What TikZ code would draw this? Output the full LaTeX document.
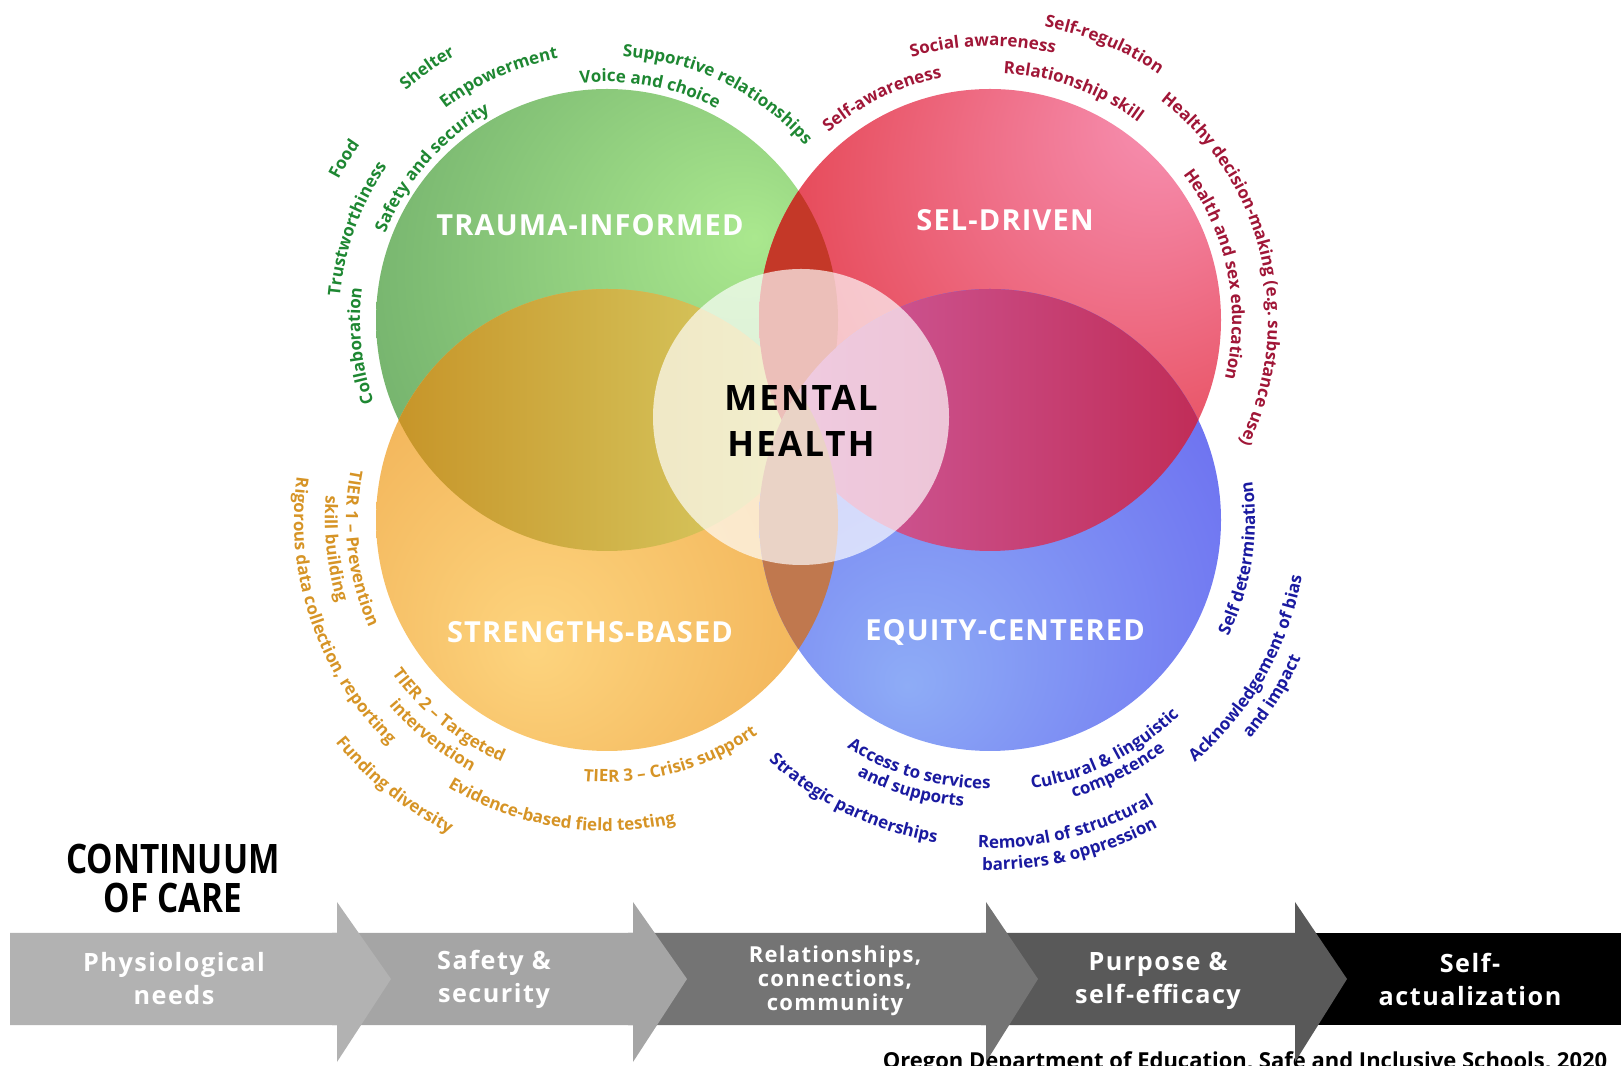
\documentclass[tikz,border=0pt]{standalone}
\usepackage{fontspec}
\setmainfont{Open Sans}
\newfontfamily\condfont{Open Sans}[FakeStretch=0.82]
\usetikzlibrary{decorations.text}

% circle colours
\definecolor{grnlo}{RGB}{98,160,98}
\definecolor{grnhi}{RGB}{170,232,142}
\definecolor{redlo}{RGB}{226,56,66}
\definecolor{redhi}{RGB}{247,146,180}
\definecolor{orglo}{RGB}{236,162,68}
\definecolor{orghi}{RGB}{253,212,126}
\definecolor{blulo}{RGB}{104,104,240}
\definecolor{bluhi}{RGB}{142,172,246}
% overlaps
\definecolor{golo}{RGB}{198,146,38}
\definecolor{gohi}{RGB}{218,212,108}
\definecolor{grlens}{RGB}{196,56,40}
\definecolor{rblo}{RGB}{208,98,165}
\definecolor{rbhi}{RGB}{192,42,84}
\definecolor{oblens}{RGB}{192,120,78}
% label colours
\definecolor{grntxt}{RGB}{30,135,50}
\definecolor{redtxt}{RGB}{160,22,55}
\definecolor{orgtxt}{RGB}{214,148,38}
\definecolor{blutxt}{RGB}{26,26,160}

\pgfdeclareradialshading{grnball}{\pgfpoint{16bp}{9bp}}{color(0bp)=(grnhi); color(50bp)=(grnlo); color(80bp)=(grnlo)}
\pgfdeclareradialshading{redball}{\pgfpoint{20bp}{23bp}}{color(0bp)=(redhi); color(42bp)=(redlo); color(80bp)=(redlo)}
\pgfdeclareradialshading{orgball}{\pgfpoint{-8bp}{-14bp}}{color(0bp)=(orghi); color(46bp)=(orglo); color(80bp)=(orglo)}
\pgfdeclareradialshading{bluball}{\pgfpoint{-9bp}{-18bp}}{color(0bp)=(bluhi); color(42bp)=(blulo); color(80bp)=(blulo)}

\newcommand\ringfont{\bfseries\fontsize{8.5}{10}\selectfont}
% text round a circle, read clockwise (top) or anticlockwise (bottom)
\newcommand\cwlabel[5]{%
  \path[decorate, decoration={text along path, text align=center,
    text={|\ringfont\color{#4}|#5}}]
    (#1) ++(#3+80:#2-5) arc[start angle=#3+80, end angle=#3-80, radius=#2-5];}
\newcommand\ccwlabel[5]{%
  \path[decorate, decoration={text along path, text align=center,
    text={|\ringfont\color{#4}|#5}}]
    (#1) ++(#3-80:#2+5) arc[start angle=#3-80, end angle=#3+80, radius=#2+5];}

\begin{document}
\begin{tikzpicture}[x=0.5pt, y=0.5pt,
  title/.style={text=white, font=\bfseries\fontsize{14.5}{17}\selectfont\addfontfeatures{LetterSpace=4}},
  stage/.style={text=white, align=center, font=\bfseries\fontsize{12.6}{16.5}\selectfont\addfontfeatures{LetterSpace=6}},
  arr1/.style={fill={rgb,255:red,178;green,178;blue,178}},
  arr2/.style={fill={rgb,255:red,165;green,165;blue,165}},
  arr3/.style={fill={rgb,255:red,116;green,116;blue,116}},
  arr4/.style={fill={rgb,255:red,89;green,89;blue,89}},
  arr5/.style={fill=black}]
	\useasboundingbox (0,0) rectangle (1621,1065);
	\clip (0,0) rectangle (1621,1065);
	\coordinate (gc) at (607,745);
	\coordinate (rc) at (990,745);
	\coordinate (oc) at (607,545);
	\coordinate (bc) at (990,545);
	\coordinate (wc) at (801,648);

	% four circles
	\shade[shading=grnball] (gc) circle[radius=231];
	\shade[shading=redball] (rc) circle[radius=231];
	\shade[shading=orgball] (oc) circle[radius=231];
	\shade[shading=bluball] (bc) circle[radius=231];
	% overlaps
	\begin{scope}
		\clip (gc) circle[radius=231];
		\shade[left color=golo, right color=gohi] (oc) circle[radius=231];
		\fill[grlens] (rc) circle[radius=231];
	\end{scope}
	\begin{scope}
		\clip (bc) circle[radius=231];
		\shade[left color=rblo, right color=rbhi] (rc) circle[radius=231];
		\fill[oblens] (oc) circle[radius=231];
	\end{scope}
	\fill[white, opacity=0.68] (wc) circle[radius=148];

	\node[title] (ti) at (590,840) {TRAUMA-INFORMED};
	\node[title] (sd) at (1005,845) {SEL-DRIVEN};
	\node[title] (sb) at (590,433) {STRENGTHS-BASED};
	\node[title] (ec) at (1005,433) {EQUITY-CENTERED};
	\node[align=center, font=\bfseries\fontsize{17.5}{23}\selectfont\addfontfeatures{LetterSpace=6}] (mh) at (801,644) {MENTAL\\HEALTH};

	% trauma-informed
	\cwlabel{gc}{310}{125.5}{grntxt}{Shelter}
	\cwlabel{gc}{271}{114}{grntxt}{Empowerment}
	\cwlabel{gc}{243}{139}{grntxt}{Safety and security}
	\cwlabel{gc}{308}{148.5}{grntxt}{Food}
	\cwlabel{gc}{273}{160}{grntxt}{Trustworthiness}
	\cwlabel{gc}{252}{186}{grntxt}{Collaboration}
	\cwlabel{gc}{243}{79.5}{grntxt}{Voice and choice}
	\cwlabel{gc}{269}{64}{grntxt}{Supportive relationships}
	% sel-driven
	\cwlabel{rc}{252}{116}{redtxt}{Self-awareness}
	\cwlabel{rc}{279}{91.5}{redtxt}{Social awareness}
	\cwlabel{rc}{303}{67.5}{redtxt}{Self-regulation}
	\cwlabel{rc}{252}{70}{redtxt}{Relationship skill}
	\cwlabel{rc}{283}{13}{redtxt}{Healthy decision-making (e.g. substance use)}
	\cwlabel{rc}{247}{11.5}{redtxt}{Health and sex education}
	% strengths-based
	\ccwlabel{oc}{256}{186.6}{orgtxt}{TIER 1 – Prevention}
	\ccwlabel{oc}{277}{186}{orgtxt}{skill building}
	\ccwlabel{oc}{308}{199}{orgtxt}{Rigorous data collection, reporting}
	\ccwlabel{oc}{259}{231}{orgtxt}{TIER 2 – Targeted}
	\ccwlabel{oc}{281}{231}{orgtxt}{intervention}
	\ccwlabel{oc}{346}{231.3}{orgtxt}{Funding diversity}
	\ccwlabel{oc}{306}{261}{orgtxt}{Evidence-based field testing}
	\ccwlabel{oc}{257}{285}{orgtxt}{TIER 3 – Crisis support}
	% equity-centered
	\ccwlabel{bc}{322}{244}{blutxt}{Strategic partnerships}
	\ccwlabel{bc}{264}{254}{blutxt}{Access to services}
	\ccwlabel{bc}{283}{253.6}{blutxt}{and supports}
	\ccwlabel{bc}{267}{296.5}{blutxt}{Cultural {\&} linguistic}
	\ccwlabel{bc}{285}{297}{blutxt}{competence}
	\ccwlabel{bc}{323}{284}{blutxt}{Removal of structural}
	\ccwlabel{bc}{345}{283.7}{blutxt}{barriers {\&} oppression}
	\ccwlabel{bc}{260}{-8.8}{blutxt}{Self determination}
	\ccwlabel{bc}{312}{-30}{blutxt}{Acknowledgement of bias}
	\ccwlabel{bc}{335}{-32}{blutxt}{and impact}

	\node[anchor=base, font=\bfseries\fontsize{11}{13}\selectfont] (src) at (1245,-3) {Oregon Department of Education, Safe and Inclusive Schools, 2020};

	% continuum band
	\fill[arr5] (1290,40) rectangle (1621,132);
	\fill[arr4] (981,40) -- (1295,40) -- (1295,3) -- (1347,86) -- (1295,163) -- (1295,132) -- (981,132) -- cycle;
	\fill[arr3] (628,40) -- (986,40) -- (986,3) -- (1038,86) -- (986,163) -- (986,132) -- (628,132) -- cycle;
	\fill[arr2] (332,40) -- (633,40) -- (633,3) -- (687,86) -- (633,163) -- (633,132) -- (332,132) -- cycle;
	\fill[arr1] (10,40) -- (337,40) -- (337,3) -- (391,86) -- (337,163) -- (337,132) -- (10,132) -- cycle;

	\node[align=center, font=\condfont\bfseries\fontsize{20.3}{19.5}\selectfont] (coc) at (173,187) {CONTINUUM\\OF CARE};
	\node[stage] (s1) at (174,86) {Physiological\\needs};
	\node[stage] (s2) at (494,86) {Safety \&\\security};
	\node[stage, font=\bfseries\fontsize{11}{12}\selectfont\addfontfeatures{LetterSpace=6}] (s3) at (835,84) {Relationships,\\connections,\\community};
	\node[stage] (s4) at (1158,84) {Purpose \&\\self-efficacy};
	\node[stage] (s5) at (1470,86) {Self-\\actualization};
\end{tikzpicture}
\end{document}
